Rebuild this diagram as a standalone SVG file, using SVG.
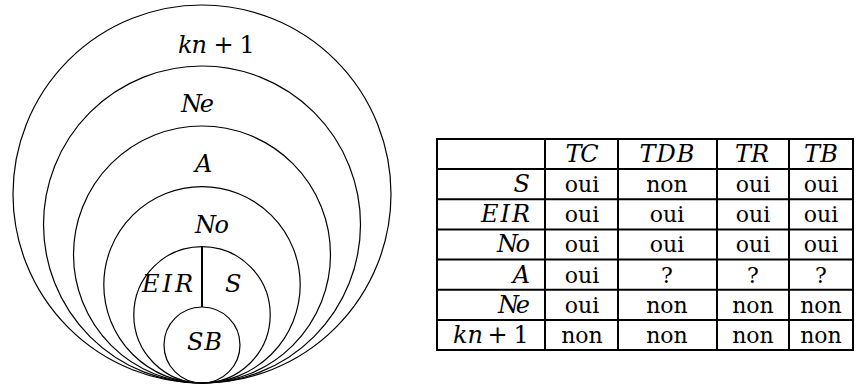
<svg xmlns="http://www.w3.org/2000/svg" width="856" height="386" viewBox="0 0 856 386">
  <style>
    .ring { fill: none; stroke: #000; stroke-width: 1.2; }
    .rule { stroke: #000; stroke-width: 2; fill: none; }
    text { font-family: "DejaVu Serif", "Liberation Serif", serif; font-size: 24px; fill: #000; }
    .t { font-size: 22px; }
    .mi { font-style: italic; }
    .c { text-anchor: middle; }
    .r { text-anchor: end; }
  </style>
  <rect width="856" height="386" fill="#fff"/>

  <!-- nested classes, all tangent at the bottom point (202,383) -->
  <g id="kn1">
    <circle class="ring" cx="202" cy="194" r="189"/>
    <text x="178" y="53"><tspan class="mi" textLength="29" lengthAdjust="spacing">kn</tspan><tspan x="213.5">+</tspan><tspan x="239.5">1</tspan></text>
  </g>
  <g id="Ne">
    <circle class="ring" cx="202" cy="224.5" r="158.5"/>
    <text class="mi" x="181" y="112" textLength="33" lengthAdjust="spacing">Ne</text>
  </g>
  <g id="A">
    <circle class="ring" cx="202" cy="254.5" r="128.5"/>
    <text class="mi" x="195" y="172">A</text>
  </g>
  <g id="No">
    <circle class="ring" cx="202" cy="284.8" r="98.2"/>
    <text class="mi" x="195" y="233" textLength="34" lengthAdjust="spacing">No</text>
  </g>
  <g id="EIR-S">
    <circle class="ring" cx="202" cy="314.8" r="68.2"/>
    <text class="mi" x="142" y="292" textLength="51" lengthAdjust="spacing">EIR</text>
    <text class="mi" x="225" y="292">S</text>
  </g>
  <g id="SB">
    <circle class="ring" cx="202" cy="345" r="38"/>
    <text class="mi" x="187" y="350" textLength="35" lengthAdjust="spacing">SB</text>
  </g>
  <g id="connectors">
    <line class="rule" x1="202" y1="246.6" x2="202" y2="307"/>
  </g>

  <!-- property table -->
  <g id="table">
    <g id="grid">
      <rect class="rule" x="437" y="139" width="416" height="211"/>
      <line class="rule" x1="545" y1="139" x2="545" y2="350"/>
      <line class="rule" x1="618" y1="139" x2="618" y2="350"/>
      <line class="rule" x1="717" y1="139" x2="717" y2="350"/>
      <line class="rule" x1="789" y1="139" x2="789" y2="350"/>
      <line class="rule" x1="437" y1="169.1" x2="853" y2="169.1"/>
      <line class="rule" x1="437" y1="199.3" x2="853" y2="199.3"/>
      <line class="rule" x1="437" y1="229.4" x2="853" y2="229.4"/>
      <line class="rule" x1="437" y1="259.6" x2="853" y2="259.6"/>
      <line class="rule" x1="437" y1="289.7" x2="853" y2="289.7"/>
      <line class="rule" x1="437" y1="319.9" x2="853" y2="319.9"/>
    </g>
    <g id="header">
      <text class="mi c" x="582" y="162" font-size="23" textLength="33" lengthAdjust="spacing">TC</text>
      <text class="mi c" x="667" y="162" font-size="23" textLength="55" lengthAdjust="spacing">TDB</text>
      <text class="mi c" x="752" y="162" font-size="23" textLength="34" lengthAdjust="spacing">TR</text>
      <text class="mi c" x="821" y="162" font-size="23" textLength="34" lengthAdjust="spacing">TB</text>
    </g>
    <g id="row-S">
      <text class="mi r" x="530" y="192.1" font-size="23">S</text>
      <text class="t c" x="582" y="192.1">oui</text>
      <text class="t c" x="667" y="192.1">non</text>
      <text class="t c" x="753" y="192.1">oui</text>
      <text class="t c" x="821" y="192.1">oui</text>
    </g>
    <g id="row-EIR">
      <text class="mi r" x="530" y="222.3" font-size="23" textLength="49" lengthAdjust="spacing">EIR</text>
      <text class="t c" x="582" y="222.3">oui</text>
      <text class="t c" x="667" y="222.3">oui</text>
      <text class="t c" x="753" y="222.3">oui</text>
      <text class="t c" x="821" y="222.3">oui</text>
    </g>
    <g id="row-No">
      <text class="mi r" x="530" y="252.4" font-size="23" textLength="33" lengthAdjust="spacing">No</text>
      <text class="t c" x="582" y="252.4">oui</text>
      <text class="t c" x="667" y="252.4">oui</text>
      <text class="t c" x="753" y="252.4">oui</text>
      <text class="t c" x="821" y="252.4">oui</text>
    </g>
    <g id="row-A">
      <text class="mi r" x="530" y="282.6" font-size="23">A</text>
      <text class="t c" x="582" y="282.6">oui</text>
      <text class="t c" x="667" y="282.6">?</text>
      <text class="t c" x="753" y="282.6">?</text>
      <text class="t c" x="821" y="282.6">?</text>
    </g>
    <g id="row-Ne">
      <text class="mi r" x="530" y="312.7" font-size="23" textLength="32" lengthAdjust="spacing">Ne</text>
      <text class="t c" x="582" y="312.7">oui</text>
      <text class="t c" x="667" y="312.7">non</text>
      <text class="t c" x="753" y="312.7">non</text>
      <text class="t c" x="821" y="312.7">non</text>
    </g>
    <g id="row-kn1">
      <text x="453" y="342.9" font-size="23"><tspan class="mi">kn</tspan><tspan x="487.5">+</tspan><tspan x="513.5">1</tspan></text>
      <text class="t c" x="582" y="342.9">non</text>
      <text class="t c" x="667" y="342.9">non</text>
      <text class="t c" x="753" y="342.9">non</text>
      <text class="t c" x="821" y="342.9">non</text>
    </g>
  </g>
</svg>
